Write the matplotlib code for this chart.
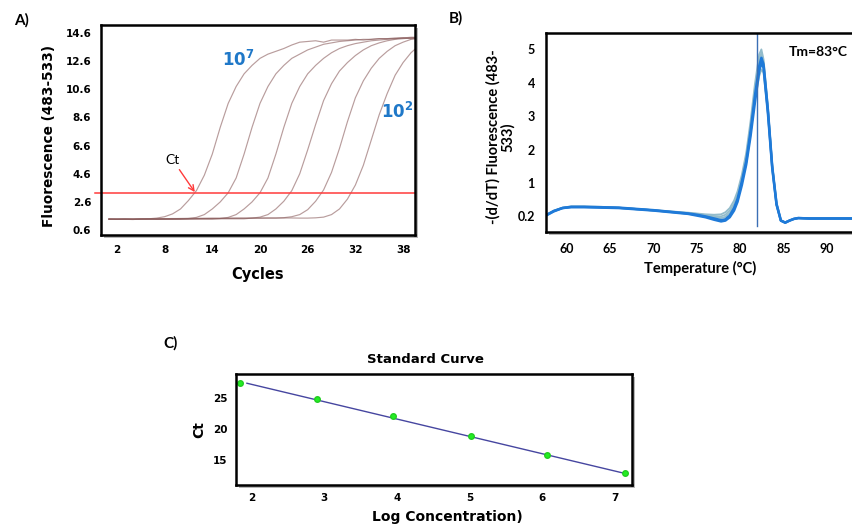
import numpy as np
import matplotlib
matplotlib.use("Agg")
import matplotlib.pyplot as plt
from matplotlib.patches import Rectangle

# ---------------- data ----------------
# Panel A: amplification curves (fluorescence per cycle)
cycles = list(range(1, 41))
amp_1e7 = [1.38, 1.36, 1.37, 1.35, 1.38, 1.40, 1.45, 1.55, 1.75, 2.10, 2.70, 3.40, 4.50, 6.00, 7.90, 9.60,
           10.80, 11.70, 12.30, 12.80, 13.10, 13.30, 13.50, 13.75, 13.95, 14.00, 14.05, 13.95, 14.10, 14.10,
           14.10, 14.15, 14.10, 14.15, 14.20, 14.20, 14.25, 14.25, 14.20, 14.20]
amp_1e6 = [1.37, 1.38, 1.36, 1.38, 1.37, 1.38, 1.36, 1.37, 1.38, 1.38, 1.42, 1.50, 1.70, 2.10, 2.60, 3.25,
           4.30, 6.00, 7.90, 9.60, 10.80, 11.70, 12.30, 12.80, 13.10, 13.40, 13.60, 13.80, 13.90, 14.00,
           14.05, 14.10, 14.15, 14.15, 14.20, 14.20, 14.20, 14.25, 14.25, 14.25]
amp_1e5 = [1.38, 1.37, 1.38, 1.36, 1.38, 1.37, 1.38, 1.37, 1.36, 1.38, 1.37, 1.38, 1.38, 1.38, 1.42, 1.50,
           1.70, 2.10, 2.60, 3.25, 4.30, 6.00, 7.90, 9.60, 10.80, 11.70, 12.30, 12.80, 13.20, 13.50,
           13.70, 13.85, 13.95, 14.05, 14.10, 14.15, 14.20, 14.25, 14.30, 14.30]
amp_1e4 = [1.38, 1.37, 1.38, 1.37, 1.38, 1.38, 1.37, 1.38, 1.39, 1.38, 1.39, 1.40, 1.40, 1.40, 1.40, 1.40,
           1.40, 1.40, 1.45, 1.52, 1.70, 2.10, 2.65, 3.40, 4.60, 6.30, 8.10, 9.80, 11.00, 11.90,
           12.50, 13.00, 13.40, 13.70, 13.90, 14.05, 14.15, 14.20, 14.25, 14.30]
amp_1e3 = [1.38, 1.38, 1.39, 1.38, 1.39, 1.40, 1.40, 1.41, 1.41, 1.42, 1.42, 1.42, 1.43, 1.43, 1.43, 1.44,
           1.44, 1.44, 1.45, 1.45, 1.45, 1.45, 1.48, 1.55, 1.70, 2.05, 2.65, 3.45, 4.70, 6.40,
           8.30, 10.00, 11.20, 12.10, 12.80, 13.30, 13.70, 13.95, 14.15, 14.25]
amp_1e2 = [1.38, 1.38, 1.39, 1.39, 1.40, 1.40, 1.41, 1.41, 1.42, 1.42, 1.43, 1.43, 1.43, 1.44, 1.44, 1.44,
           1.45, 1.45, 1.45, 1.45, 1.46, 1.46, 1.46, 1.46, 1.45, 1.45, 1.47, 1.52, 1.70, 2.10,
           2.80, 3.80, 5.20, 7.00, 8.80, 10.30, 11.60, 12.50, 13.20, 13.70]
amp_curves = [amp_1e7, amp_1e6, amp_1e5, amp_1e4, amp_1e3, amp_1e2]
threshold = 3.25
a_xticks = [2, 8, 14, 20, 26, 32, 38]
a_yticks = [0.6, 2.6, 4.6, 6.6, 8.6, 10.6, 12.6, 14.6]

# Panel B: melting curves -(d/dT) fluorescence vs temperature
temps = [57.6, 58.5, 59.5, 60.5, 62, 64, 66, 68, 70, 72, 74, 75, 76, 77, 77.8, 78.3, 78.8, 79.3, 79.7,
         80.2, 80.7, 81.2, 81.7, 82.2, 82.45, 82.7, 83.2, 83.7, 84.2, 84.7, 85.2, 85.7, 86.2, 86.7, 88, 90, 93]
melt_light1 = [0.23, 0.34, 0.41, 0.44, 0.44, 0.43, 0.41, 0.38, 0.35, 0.32, 0.29, 0.27, 0.25, 0.24, 0.25, 0.30,
               0.40, 0.58, 0.80, 1.25, 1.90, 2.85, 3.95, 4.85, 5.00, 4.70, 3.30, 1.55, 0.50, 0.10, 0.05, 0.10,
               0.14, 0.16, 0.15, 0.15, 0.15]
melt_light2 = [0.22, 0.33, 0.40, 0.43, 0.43, 0.42, 0.40, 0.37, 0.34, 0.31, 0.28, 0.26, 0.23, 0.21, 0.20, 0.24,
               0.34, 0.50, 0.72, 1.15, 1.80, 2.70, 3.80, 4.70, 4.90, 4.60, 3.25, 1.50, 0.48, 0.10, 0.06, 0.10,
               0.14, 0.16, 0.15, 0.15, 0.15]
melt_light3 = [0.23, 0.33, 0.40, 0.43, 0.43, 0.42, 0.41, 0.38, 0.35, 0.31, 0.27, 0.24, 0.21, 0.18, 0.16, 0.19,
               0.28, 0.45, 0.66, 1.10, 1.70, 2.60, 3.50, 4.20, 4.40, 4.30, 3.10, 1.45, 0.48, 0.10, 0.06, 0.10,
               0.14, 0.16, 0.15, 0.15, 0.15]
melt_main1 = [0.23, 0.33, 0.40, 0.43, 0.43, 0.42, 0.41, 0.38, 0.35, 0.31, 0.27, 0.24, 0.20, 0.15, 0.11, 0.13,
              0.22, 0.40, 0.62, 1.05, 1.65, 2.55, 3.60, 4.50, 4.75, 4.55, 3.20, 1.50, 0.50, 0.10, 0.05, 0.10,
              0.14, 0.16, 0.15, 0.15, 0.15]
melt_main2 = [0.22, 0.32, 0.40, 0.42, 0.42, 0.41, 0.40, 0.37, 0.34, 0.30, 0.26, 0.22, 0.18, 0.12, 0.08, 0.10,
              0.18, 0.34, 0.55, 0.95, 1.55, 2.40, 3.40, 4.35, 4.60, 4.45, 3.10, 1.45, 0.48, 0.10, 0.05, 0.10,
              0.14, 0.16, 0.15, 0.15, 0.15]
melt_light = [melt_light1, melt_light2, melt_light3]
melt_main = [melt_main1, melt_main2]
tm_line = 81.9
b_xticks = [60, 65, 70, 75, 80, 85, 90]
b_yticks = [0.2, 1, 2, 3, 4, 5]

# Panel C: standard curve
log_conc = [1.84, 2.91, 3.955, 5.02, 6.06, 7.14]
ct_values = [27.53, 24.84, 22.2, 18.9, 15.86, 12.83]
fit_x = [1.94, 7.16]
fit_y = [27.45, 12.75]
c_xticks = [2, 3, 4, 5, 6, 7]
c_yticks = [15, 20, 25]

# ---------------- figure ----------------
W, H = 852, 527
fig = plt.figure(figsize=(W / 100, H / 100), dpi=100)
fig.patch.set_facecolor("white")

VERD = "DejaVu Sans"
CAL = "Lato"


def px_axes(l, t, r, b):
    return [l / W, 1 - b / H, (r - l) / W, (b - t) / H]


def shadow(l, t, r, b):
    off = 3
    fig.patches.append(Rectangle(((l + off) / W, 1 - (b + off) / H), (r - l) / W, (b - t) / H,
                                 transform=fig.transFigure, facecolor="#b8b8b8",
                                 edgecolor="none", zorder=-5))


def frame(ax, lw=1.8):
    for s in ax.spines.values():
        s.set_linewidth(lw)
        s.set_color("black")


# ---- Panel A ----
A = (101, 25, 415, 235)
shadow(*A)
axA = fig.add_axes(px_axes(*A))
axA.set_facecolor("white")
for ys in amp_curves:
    axA.plot(cycles, ys, color="#8a5c5c", lw=0.85, alpha=0.6)
axA.axhline(threshold, xmin=-0.02, xmax=1, color="#ff3b3b", lw=1.1, clip_on=False)
axA.set_xlim(0, 39.5)
axA.set_ylim(0.25, 15.17)
axA.set_xticks(a_xticks)
axA.set_yticks(a_yticks)
axA.set_yticklabels([f"{v:.1f}" for v in a_yticks])
axA.tick_params(length=0, labelsize=7.5, pad=7)
for lab in axA.get_xticklabels() + axA.get_yticklabels():
    lab.set_fontweight("bold")
    lab.set_family(VERD)
frame(axA)
axA.set_xlabel("Cycles", fontsize=10.5, fontweight="bold", family=VERD)
axA.xaxis.set_label_coords(0.498, -0.186)
axA.xaxis.label.set_va("center")
axA.set_ylabel("Fluorescence (483-533)", fontsize=9.8, fontweight="bold", family=VERD)
axA.yaxis.set_label_coords(-0.166, 0.472)
axA.yaxis.label.set_va("center")
axA.text(15.2, 12.7, r"$\mathbf{10^{7}}$", color="#1f78c8", fontsize=12, va="center", ha="left")
axA.text(35.2, 9.0, r"$\mathbf{10^{2}}$", color="#1f78c8", fontsize=12, va="center", ha="left")
axA.annotate("Ct", xy=(11.8, 3.3), xytext=(9.0, 5.6), fontsize=10, family=CAL,
             ha="center", va="center",
             arrowprops=dict(arrowstyle="->", color="#ff3b3b", lw=1.0, shrinkA=1, shrinkB=0))
fig.text(21.3 / W, 1 - 20 / H, "A)", fontsize=11, fontweight="bold", family=CAL, ha="center", va="center")

# ---- Panel B ----
B = (546, 33, 880, 232)
shadow(*B)
axB = fig.add_axes(px_axes(*B))
axB.set_facecolor("white")


def fwd(y):
    y = np.asarray(y, dtype=float)
    return np.where(y >= 1, y, 1 - (1 - y) / 0.8)


def inv(v):
    v = np.asarray(v, dtype=float)
    return np.where(v >= 1, v, 1 - (1 - v) * 0.8)


axB.set_yscale("function", functions=(fwd, inv))
for ys in melt_light:
    axB.plot(temps, ys, color="#93bccb", lw=1.3)
for ys in melt_main:
    axB.plot(temps, ys, color="#1f7ad8", lw=1.8)
axB.axvline(tm_line, ymin=0.03, ymax=1, color="#3b6fb5", lw=1.0)
axB.set_xlim(57.6, 57.6 + (880 - 546) / 8.667)
axB.set_ylim(float(inv(-0.467)), 5.49)
axB.set_xticks(b_xticks)
axB.set_yticks(b_yticks)
axB.set_yticklabels(["0.2", "1", "2", "3", "4", "5"])
axB.tick_params(length=0, labelsize=9, pad=8)
for lab in axB.get_xticklabels() + axB.get_yticklabels():
    lab.set_fontweight("bold")
    lab.set_family(CAL)
frame(axB)
axB.set_xlabel("Temperature (°C)", fontsize=10.5, fontweight="bold", family=CAL)
axB.xaxis.set_label_coords(0.462, -0.181)
axB.xaxis.label.set_va("center")
axB.set_ylabel("-(d/dT) Fluorescence (483-\n533)", fontsize=10.5, fontweight="bold", family=CAL,
               linespacing=1.0)
axB.yaxis.set_label_coords(-0.136, 0.477)
axB.yaxis.label.set_va("center")
fig.text(789 / W, 1 - 51.7 / H, "Tm=83°C", fontsize=10, fontweight="bold", family=CAL,
         ha="left", va="center")
fig.text(456 / W, 1 - 18.3 / H, "B)", fontsize=11, fontweight="bold", family=CAL, ha="center", va="center")

# ---- Panel C ----
C = (236, 374, 631.7, 485)
shadow(*C)
axC = fig.add_axes(px_axes(*C))
axC.set_facecolor("white")
axC.plot(fit_x, fit_y, color="#4646a0", lw=1.0)
axC.plot(log_conc, ct_values, linestyle="none", marker="o", markersize=4,
         color="#22ee22", markeredgecolor="#22cc22")
axC.set_xlim(1.79, 7.23)
axC.set_ylim(10.94, 28.95)
axC.set_xticks(c_xticks)
axC.set_yticks(c_yticks)
axC.tick_params(length=0, labelsize=7.5, pad=6)
for lab in axC.get_xticklabels() + axC.get_yticklabels():
    lab.set_fontweight("bold")
    lab.set_family(VERD)
frame(axC)
axC.set_title("Standard Curve", fontsize=9.5, fontweight="bold", family=VERD, x=0.478, y=1.096, pad=0)
axC.set_xlabel("Log Concentration)", fontsize=10, fontweight="bold", family=VERD)
axC.xaxis.set_label_coords(0.533, -0.286)
axC.xaxis.label.set_va("center")
axC.set_ylabel("Ct", fontsize=10, fontweight="bold", family=VERD)
axC.yaxis.set_label_coords(-0.0935, 0.495)
axC.yaxis.label.set_va("center")
fig.text(170.7 / W, 1 - 343.3 / H, "C)", fontsize=11, fontweight="bold", family=CAL, ha="center", va="center")

fig.savefig("out.png", dpi=100, facecolor="white")
